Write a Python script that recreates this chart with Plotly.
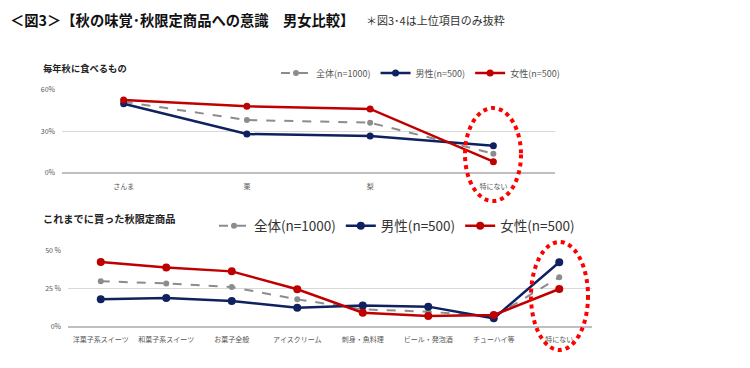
import plotly.graph_objects as go

# ---- data ----
cats1 = ["さんま", "栗", "梨", "特にない"]
all1 = [51.5, 38.3, 36.4, 14.0]
male1 = [50.0, 28.2, 26.7, 19.7]
female1 = [52.8, 48.2, 46.3, 8.2]

cats2 = ["洋菓子系スイーツ", "和菓子系スイーツ", "お菓子全般", "アイスクリーム",
         "刺身・魚料理", "ビール・発泡酒", "チューハイ等", "特にない"]
all2 = [29.9, 28.5, 26.1, 18.0, 11.4, 9.9, 6.5, 32.5]
male2 = [18.0, 18.9, 16.9, 12.5, 14.0, 13.2, 5.5, 42.4]
female2 = [42.6, 39.0, 36.4, 24.6, 9.2, 7.0, 7.7, 24.8]

ticks1 = [0, 30, 60]
ticklabels1 = ["0%", "30%", "60%"]
ticks2 = [0, 25, 50]
ticklabels2 = ["0%", "25 %", "50 %"]

names = ["全体(n=1000)", "男性(n=500)", "女性(n=500)"]

GRAY = "#8c8c8c"
NAVY = "#0f225f"
RED = "#c00000"
FONT = "Noto Sans CJK JP"

# page body has an 8px margin; size the figure so the page fits the window
OFF = 8
W, H = 750 - 2 * OFF, 368 - 2 * OFF
def px(x):
    return (x - OFF) / W
def py(y):
    return 1 - (y - OFF) / H

fig = go.Figure()

def add_series(cats, vals, name, color, dash, msize, width, xa, ya, legend):
    fig.add_trace(go.Scatter(
        x=cats, y=vals, name=name, mode="lines+markers",
        line=dict(color=color, width=width, dash=dash),
        marker=dict(color=color, size=msize),
        xaxis=xa, yaxis=ya, legend=legend, cliponaxis=False,
        hoverinfo="skip"))

add_series(cats1, all1, names[0], GRAY, "dash", 6, 2, "x", "y", "legend")
add_series(cats1, male1, names[1], NAVY, "solid", 7, 2.5, "x", "y", "legend")
add_series(cats1, female1, names[2], RED, "solid", 7, 2.5, "x", "y", "legend")

add_series(cats2, all2, names[0], GRAY, "dash", 6, 2, "x2", "y2", "legend2")
add_series(cats2, male2, names[1], NAVY, "solid", 8, 2.5, "x2", "y2", "legend2")
add_series(cats2, female2, names[2], RED, "solid", 8, 2.5, "x2", "y2", "legend2")

axis_font = dict(family=FONT, size=7, color="#555555")

fig.update_layout(
    width=W, height=H,
    margin=dict(l=0, r=0, t=0, b=0, pad=0, autoexpand=False),
    paper_bgcolor="white", plot_bgcolor="white",
    showlegend=True,
    xaxis=dict(domain=[px(62), px(555)], type="category",
               range=[-0.5, len(cats1) - 0.5], showgrid=False,
               showline=False, ticks="", tickfont=axis_font,
               ticklabelstandoff=8,
               anchor="y", fixedrange=True, automargin=False),
    yaxis=dict(domain=[py(173), py(90)], range=[0, 60],
               tickvals=ticks1, ticktext=ticklabels1,
               showgrid=True, gridcolor="#d9d9d9", gridwidth=1,
               zeroline=True, zerolinecolor="#bfbfbf", zerolinewidth=1.5,
               showline=False, ticks="", tickfont=axis_font,
               ticklabelstandoff=6, anchor="x", fixedrange=True, automargin=False),
    xaxis2=dict(domain=[px(68), px(592)], type="category",
                range=[-0.5, len(cats2) - 0.5], showgrid=False,
                showline=False, ticks="", tickfont=axis_font,
                ticklabelstandoff=7,
                anchor="y2", fixedrange=True, automargin=False),
    yaxis2=dict(domain=[py(326.7), py(250.7)], range=[0, 50],
                tickvals=ticks2, ticktext=ticklabels2,
                showgrid=True, gridcolor="#d9d9d9", gridwidth=1,
                zeroline=True, zerolinecolor="#bfbfbf", zerolinewidth=1.5,
                showline=False, ticks="", tickfont=axis_font,
                ticklabelstandoff=6, anchor="x2", fixedrange=True, automargin=False),
    legend=dict(orientation="h", x=px(276), y=py(73), xanchor="left",
                yanchor="middle", font=dict(family=FONT, size=9, color="#555555"),
                bgcolor="rgba(0,0,0,0)", itemwidth=30, tracegroupgap=0),
    legend2=dict(orientation="h", x=px(214), y=py(226), xanchor="left",
                 yanchor="middle", font=dict(family=FONT, size=13.5, color="#333333"),
                 bgcolor="rgba(0,0,0,0)", itemwidth=30),
)

annotations = [
    dict(text="<b>＜図3＞【秋の味覚･秋限定商品への意識　男女比較】</b>",
         x=px(8), y=py(19.5), xanchor="left", yanchor="middle",
         font=dict(family=FONT, size=14.3, color="#111111")),
    dict(text="＊図3･4は上位項目のみ抜粋",
         x=px(364), y=py(19.5), xanchor="left", yanchor="middle",
         font=dict(family=FONT, size=11, color="#333333")),
    dict(text="<b>毎年秋に食べるもの</b>",
         x=px(41), y=py(68), xanchor="left", yanchor="middle",
         font=dict(family=FONT, size=9.3, color="#222222")),
    dict(text="<b>これまでに買った秋限定商品</b>",
         x=px(41), y=py(218), xanchor="left", yanchor="middle",
         font=dict(family=FONT, size=10.2, color="#222222")),
]
for a in annotations:
    a.update(xref="paper", yref="paper", showarrow=False)
fig.update_layout(annotations=annotations)

fig.add_shape(type="circle", xref="paper", yref="paper",
              x0=px(465), x1=px(521), y0=py(201), y1=py(108),
              line=dict(color="#ff0000", width=4, dash="dot"))
fig.add_shape(type="circle", xref="paper", yref="paper",
              x0=px(531), x1=px(588), y0=py(350), y1=py(242),
              line=dict(color="#ff0000", width=4, dash="dot"))

fig.write_html("out.html")
